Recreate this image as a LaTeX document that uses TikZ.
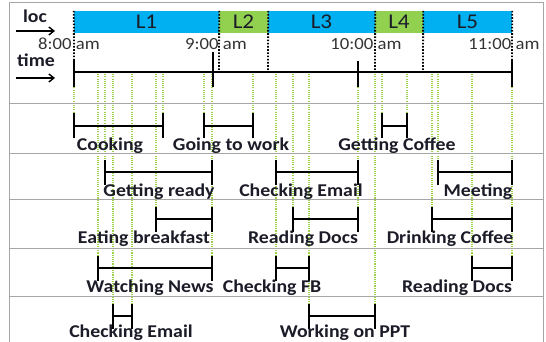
\documentclass[tikz,border=0pt]{standalone}
\usepackage{fontspec}
\setmainfont{Carlito}[FakeStretch=1.1]
\usetikzlibrary{arrows.meta}
\definecolor{cblue}{HTML}{00B0F0}
\definecolor{cgreen}{HTML}{92D050}
\definecolor{gline}{HTML}{9BD24A}
\definecolor{labc}{HTML}{1C1C28}
\pgfdeclarelayer{bg}
\pgfsetlayers{bg,main}
\tikzset{
  frameline/.style={draw=black!35, line width=1pt},
  barline/.style={line width=2.6pt, black},
  guide/.style={draw=gline, line width=1.1pt, dash pattern=on 1.1pt off 1.1pt},
  sepline/.style={black, line width=1.8pt, dash pattern=on 1.6pt off 1.6pt},
  lab/.style={font=\fontsize{18}{18}\selectfont\bfseries, anchor=base, text=labc, inner sep=0pt},
  tlab/.style={font=\fontsize{17}{17}\selectfont, anchor=base, text=black!80, inner sep=0pt},
  lbox/.style={minimum height=22pt, inner sep=0pt, font=\fontsize{21}{21}\selectfont, text=labc},
  axarrow/.style={line width=1.4pt, -{Straight Barb[length=5pt,width=8pt]}},
}
\newcommand\ival[7]{%
  \coordinate (#1a) at (#2,#4);
  \coordinate (#1b) at (#3,#4);
  \begin{pgfonlayer}{bg}
    \draw[guide] (#1a |- axL) -- (#1a);
    \draw[guide] (#1b |- axL) -- (#1b);
  \end{pgfonlayer}
  \draw[barline] (#1a) -- (#1b);
  \draw[barline] ([yshift=-12.5pt]#1a) -- ([yshift=12.5pt]#1a);
  \draw[barline] ([yshift=-12.5pt]#1b) -- ([yshift=12.5pt]#1b);
  \node[lab] (#1l) at (#6,{#4+#7}) {#5};
}
\begin{document}
\begin{tikzpicture}[x=1pt,y=-1pt]
\useasboundingbox (0,0) rectangle (546,342);
% frame
\draw[frameline] (9,342) -- (9,3) -- (543,3) -- (543,342);
\foreach \yy in {104,153,199,248,296}
  \draw[frameline] (9,\yy) -- (543,\yy);
% location bar
\node[lbox, fill=cblue, minimum width=145pt] (L1) at (146.5,22) {L1};
\node[lbox, fill=cgreen, minimum width=49pt] (L2) at (243.5,22) {L2};
\node[lbox, fill=cblue, minimum width=107pt] (L3) at (321.5,22) {L3};
\node[lbox, fill=cgreen, minimum width=48pt] (L4) at (399,22) {L4};
\node[lbox, fill=cblue, minimum width=89pt] (L5) at (467.5,22) {L5};
% axis
\coordinate (axL) at (74,72);
\coordinate (axR) at (512,72);
\draw[barline] (axL) -- (axR);
\draw[barline] (74,60) -- (74,87);
\draw[barline] (213,52) -- (213,87);
\draw[barline] (358,61) -- (358,87);
\draw[barline] (512,60) -- (512,87);
% time labels
\node[tlab] (h8) at (69,50) {8:00 am};
\node[tlab] (h9) at (216,50) {9:00 am};
\node[tlab] (h10) at (366,50) {10:00 am};
\node[tlab] (h11) at (504,50) {11:00 am};
% location separators
\draw[sepline] (L1.north west) -- (74,60);
\draw[sepline] (L1.north east) -- (219,70);
\draw[sepline] (L2.north east) -- (268,70);
\draw[sepline] (L3.north east) -- (375,70);
\draw[sepline] (L4.north east) -- (423,70);
\draw[sepline] (L5.north east) -- (512,60);
% axis titles
\node[lab] (loc) at (35,23) {loc};
\coordinate (la1) at (16,31);
\coordinate (la2) at (55,31);
\draw[axarrow] (la1) -- (la2);
\node[lab] (time) at (36,67) {time};
\coordinate (ta1) at (16,78);
\coordinate (ta2) at (55,78);
\draw[axarrow] (ta1) -- (ta2);
% activities
\ival{cook}{74}{163}{126}{Cooking}{110}{24}
\ival{gtw}{204}{253}{126}{Going to work}{231}{24}
\ival{gc}{382}{407}{126}{Getting Coffee}{397}{24}
\ival{gr}{105}{212}{172}{Getting ready}{159}{24}
\ival{ce}{276}{358}{172}{Checking Email}{301}{24}
\ival{mt}{438}{512}{172}{Meeting}{478}{24}
\ival{eb}{156}{212}{219}{Eating breakfast}{144}{24}
\ival{rd}{293}{358}{219}{Reading Docs}{303}{24}
\ival{dc}{432}{512}{219}{Drinking Coffee}{450}{24}
\ival{wn}{98}{212}{268}{Watching News}{150}{24}
\ival{cf}{276}{309}{268}{Checking FB}{272}{24}
\ival{rdb}{472}{512}{268}{Reading Docs}{457}{24}
\ival{ceb}{113}{132}{316}{Checking Email}{131}{21}
\ival{ppt}{309}{375}{316}{Working on PPT}{345}{21}
\end{tikzpicture}
\end{document}
